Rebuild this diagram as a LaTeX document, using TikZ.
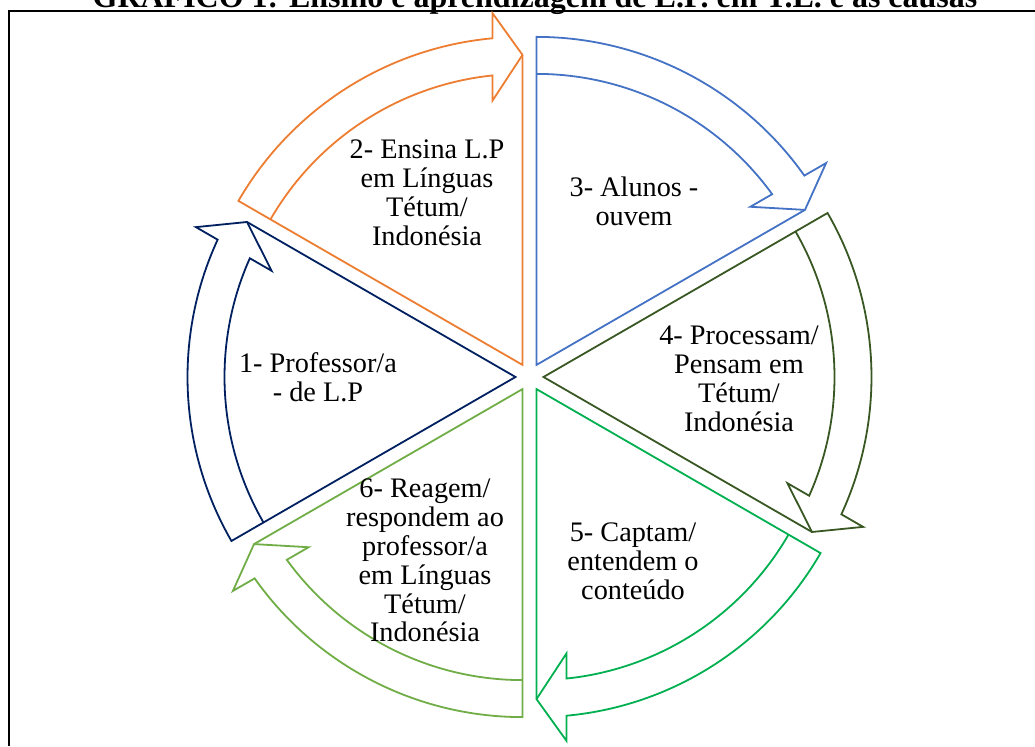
\documentclass[tikz,border=0pt]{standalone}
\usepackage{fontspec}
\setmainfont{Liberation Serif}
\definecolor{segnavy}{HTML}{002060}
\definecolor{segorange}{HTML}{ED7D31}
\definecolor{segblue}{HTML}{4472C4}
\definecolor{segdkgreen}{HTML}{385723}
\definecolor{seggreen}{HTML}{00B050}
\definecolor{segltgreen}{HTML}{70AD47}
\tikzset{
  segline/.style={line width=1.35pt, line join=miter},
  segtext/.style={anchor=base, inner sep=0pt, font=\fontsize{21.2}{21.6}\selectfont},
}
% #1,#2 apex, #3 start angle (tail), #4 colour; arrow runs clockwise by 60 degrees
\newcommand{\cyseg}[4]{%
  \begin{scope}[shift={(#1,#2)}]
    \pgfmathsetmacro{\segE}{#3-60}
    \draw[segline,draw=#4] (0,0) -- (#3:328)
      arc[start angle=#3, end angle=\segE+5.25, radius=328]
      -- (\segE+4.875:353) -- (\segE:310) -- cycle;
    \draw[segline,draw=#4] (#3:291)
      arc[start angle=#3, end angle=\segE+5.92, radius=291]
      -- (\segE+6.475:266) -- (\segE:310);
  \end{scope}}
\begin{document}
\begin{tikzpicture}[x=0.75pt,y=0.75pt]
\useasboundingbox (0,0) rectangle (1035,746);
% frame
\draw[line width=1.5pt] (1035,735) -- (9,735) -- (9,0);
% title (cut off at top, as in the reference)
\node[anchor=base, inner sep=0pt, font=\bfseries\fontsize{24}{28}\selectfont] (title) at (535,738)
  {GRÁFICO 1: Ensino e aprendizagem de L.P. em T.L. e as causas};
% segments
\cyseg{515.5}{369}{210}{segnavy}
\cyseg{522.5}{381.1}{150}{segorange}
\cyseg{536.5}{381.1}{90}{segblue}
\cyseg{543.5}{369}{30}{segdkgreen}
\cyseg{536.5}{356.9}{-30}{seggreen}
\cyseg{522.5}{356.9}{-90}{segltgreen}
% texts
\node[segtext] (t1) at (318,373) {\begin{tabular}[t]{@{}c@{}}1- Professor/a\\- de L.P\end{tabular}};
\node[segtext] (t2) at (427,587) {\begin{tabular}[t]{@{}c@{}}2- Ensina L.P\\em Línguas\\Tétum/\\Indonésia\end{tabular}};
\node[segtext] (t3) at (634,549) {\begin{tabular}[t]{@{}c@{}}3- Alunos -\\ouvem\end{tabular}};
\node[segtext] (t4) at (739,401) {\begin{tabular}[t]{@{}c@{}}4- Processam/\\Pensam em\\Tétum/\\Indonésia\end{tabular}};
\node[segtext] (t5) at (633,204) {\begin{tabular}[t]{@{}c@{}}5- Captam/\\entendem o\\conteúdo\end{tabular}};
\node[segtext] (t6) at (425,248) {\begin{tabular}[t]{@{}c@{}}6- Reagem/\\respondem ao\\professor/a\\em Línguas\\Tétum/\\Indonésia\end{tabular}};
\end{tikzpicture}
\end{document}
